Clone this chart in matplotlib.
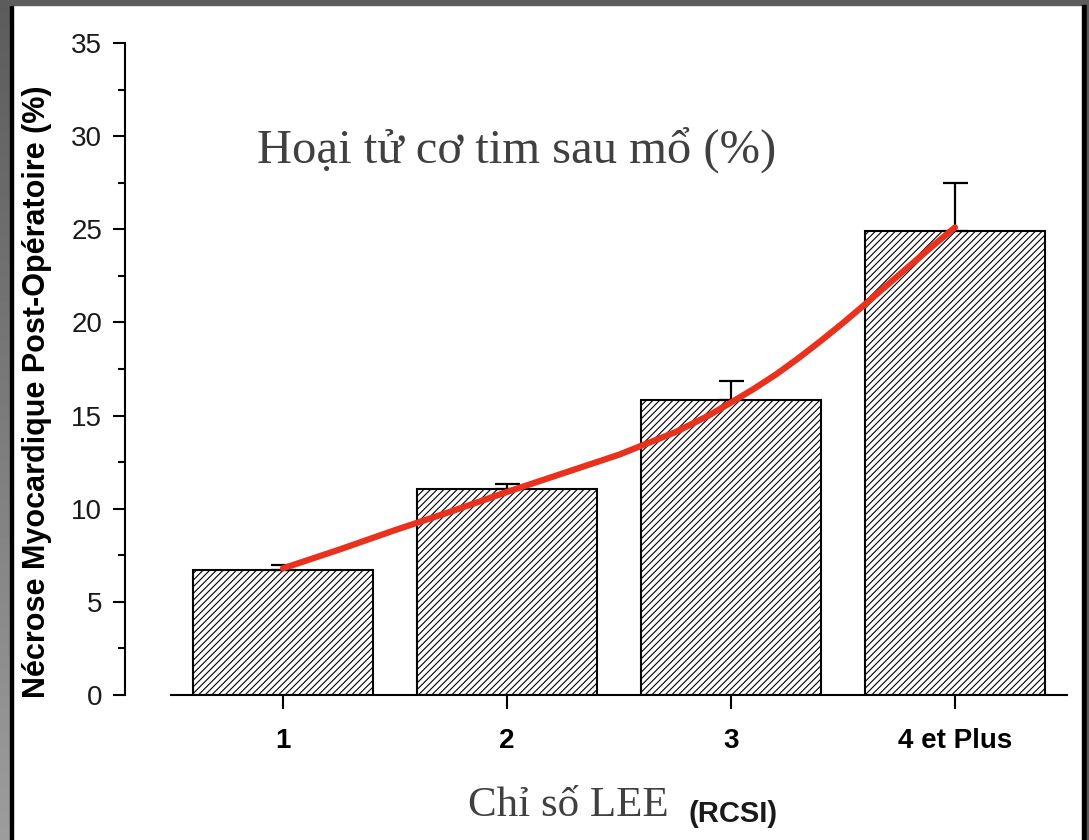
import numpy as np
import matplotlib.pyplot as plt
from matplotlib.patches import Rectangle
from matplotlib.ticker import MultipleLocator

# ── data ─────────────────────────────────────────
categories = ['1', '2', '3', '4 et Plus']
necrose = [6.7, 11.05, 15.85, 24.9]        # mean post-op necrosis (%)
erreur = [0.3, 0.25, 1.0, 2.6]             # upper error only

# smoothed trend drawn through the bar tops
trend_x = [1.0, 1.25, 1.5, 1.75, 2.0, 2.25, 2.5, 2.75, 2.9, 3.0, 3.1, 3.2, 3.3, 3.4,
           3.5, 3.6, 3.75, 3.9, 4.0]
trend_y = [6.8, 7.8, 8.85, 9.85, 10.9, 11.9, 12.9, 14.1, 15.0, 15.7, 16.42, 17.2, 18.07,
           19.0, 19.97, 20.99, 22.55, 24.1, 25.1]

plt.rcParams['hatch.linewidth'] = 0.8
plt.rcParams['font.family'] = 'Liberation Sans'
W, H = 1089, 840
fig = plt.figure(figsize=(W / 100, H / 100), dpi=100)
fig.patch.set_facecolor('white')

# ── slide frame around the chart ─────────────────
strip = fig.add_axes([0, 0, 10 / W, 1])
strip.imshow(np.linspace(0.36, 0.61, 64).reshape(-1, 1), cmap='gray', vmin=0, vmax=1,
             aspect='auto', extent=[0, 1, 0, 1], origin='upper')
strip.axis('off')
fig.patches.append(Rectangle((10 / W, 0), 2.5 / W, 1, transform=fig.transFigure,
                             color='black', zorder=5))
fig.patches.append(Rectangle((0, 1 - 5 / H), 1, 5 / H, transform=fig.transFigure,
                             color='#5c5c5c', zorder=5))
fig.patches.append(Rectangle((1082 / W, 0), 5 / W, 1 - 5 / H, transform=fig.transFigure,
                             color='black', zorder=5))
fig.patches.append(Rectangle((1087 / W, 0), 2 / W, 1, transform=fig.transFigure,
                             color='#5c5c5c', zorder=5))

# ── bar chart ────────────────────────────────────
ax = fig.add_axes([171 / W, 145 / H, 896 / W, 652 / H])
x = np.arange(1, len(categories) + 1)

ax.bar(x, necrose, width=0.8, color='white', edgecolor='black', linewidth=1.5,
       hatch='/////', zorder=2)
ax.errorbar(x, necrose, yerr=[np.zeros(len(erreur)), erreur], fmt='none',
            ecolor='black', elinewidth=1.6, capsize=9, capthick=1.6, zorder=3)
ax.plot(trend_x, trend_y, color='#e8321e', lw=4.5, solid_capstyle='round',
        solid_joinstyle='round', zorder=4)

ax.set_xlim(0.5, 4.5)
ax.set_ylim(0, 35)
ax.set_xticks(x)
ax.set_xticklabels(categories, fontsize=20, fontweight='bold')
ax.yaxis.set_major_locator(MultipleLocator(5))
ax.yaxis.set_minor_locator(MultipleLocator(2.5))

for side in ('top', 'right'):
    ax.spines[side].set_visible(False)
for side in ('left', 'bottom'):
    ax.spines[side].set_linewidth(1.5)
ax.spines['left'].set_position(('outward', 33))
ax.patch.set_alpha(0)

ax.tick_params(axis='y', which='major', direction='out', length=8.6, width=1.5, pad=8,
               labelsize=20, labelcolor='#1a1a1a')
ax.tick_params(axis='y', which='minor', direction='out', length=5, width=1.5)
ax.tick_params(axis='x', which='major', direction='out', length=10, width=1.5, pad=14)
ax.tick_params(axis='x', which='minor', bottom=False)

# ── labels ───────────────────────────────────────
fig.text(37 / W, 1 - 392 / H, 'Nécrose Myocardique Post-Opératoire (%)', rotation=90,
         ha='center', va='center', fontsize=22, fontweight='bold')
fig.text(257 / W, 1 - 163 / H, 'Hoại tử cơ tim sau mổ (%)', ha='left', va='baseline',
         fontsize=35, color='#404040', family='Liberation Serif')
fig.text(468 / W, 1 - 816 / H, 'Chỉ số LEE', ha='left', va='baseline',
         fontsize=31, color='#404040', family='Liberation Serif')
fig.text(688 / W, 1 - 822 / H, '(RCSI)', ha='left', va='baseline',
         fontsize=21, fontweight='bold', color='#1a1a1a')

fig.savefig('out.png', dpi=100)
